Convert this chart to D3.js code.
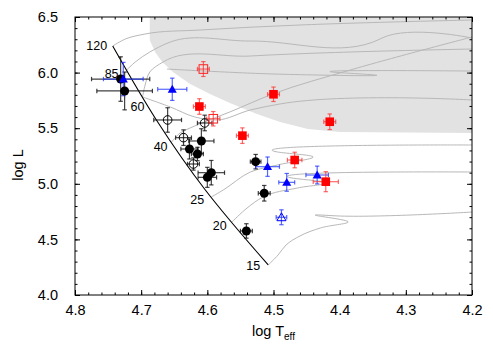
<!DOCTYPE html>
<html><head><meta charset="utf-8">
<script src="https://cdn.jsdelivr.net/npm/d3@7"></script>
<style>
html,body{margin:0;padding:0;background:#fff;}
svg text{font-family:"Liberation Sans",Arial,Helvetica,sans-serif;}
</style></head>
<body><svg id="c" width="493" height="354"></svg>
<script>
// ---------------- data ----------------
const xTicks = [4.8, 4.7, 4.6, 4.5, 4.4, 4.3, 4.2];
const yTicks = [4.0, 4.5, 5.0, 5.5, 6.0, 6.5];
const masses = ["120", "85", "60", "40", "25", "20", "15"];

// evolutionary tracks [logTeff, logL]
const track120 = [[4.743,6.239],[4.724,6.302],[4.694,6.347],[4.611,6.383],[4.460,6.428],[4.2,6.473]];
const track85  = [[4.722,6.023],[4.709,6.095],[4.687,6.185],[4.656,6.275],[4.535,6.284],[4.339,6.302],[4.336,6.311],[4.2,6.311]];
const track60  = [[4.698,5.781],[4.694,5.889],[4.687,6.005],[4.667,6.095],[4.535,6.149],[4.2,6.212]];
const track60b = [[4.698,5.781],[4.656,5.691],[4.619,5.601],[4.585,5.574],[4.535,5.664],[4.490,5.718],[4.2,5.754]];
const trackX   = [[4.661,6.032],[4.498,5.987],[4.346,5.978],[4.411,6.005],[4.2,6.014]];
const track40  = [[4.654,5.376],[4.641,5.457],[4.626,5.502],[4.608,5.547],[4.566,5.646],[4.501,5.808],[4.384,6.023],[4.2,6.320]];
const track25  = [[4.594,4.881],[4.576,4.944],[4.535,5.106],[4.494,5.169],[4.440,5.241],[4.494,5.286],[4.2,5.349]];
const track20  = [[4.563,4.656],[4.540,4.782],[4.516,4.881],[4.464,4.962],[4.419,5.007],[4.472,5.052],[4.2,5.106]];
const track15  = [[4.508,4.270],[4.493,4.360],[4.481,4.450],[4.460,4.531],[4.429,4.603],[4.387,4.656],[4.437,4.719],[4.399,4.710],[4.2,4.746]];
const labelTracks = [track120, track85, track60, track40, track25, track20, track15];

// zero-age main sequence
const zams = [[4.743,6.239],[4.677,5.574],[4.603,4.944],[4.508,4.270]];

// shaded region boundary
const shade = [[4.687,6.5],[4.687,6.293],[4.679,6.185],[4.668,6.095],[4.652,6.005],[4.626,5.897],[4.596,5.808],[4.566,5.727],[4.525,5.628],[4.490,5.556],[4.448,5.493],[4.399,5.466],[4.2,5.457],[4.2,6.5]];

// stars: [logTeff, logL, errT, errL]
const blackFilled = [
  [4.731,5.942,0.044,0.20],[4.725,5.835,0.042,0.17],[4.609,5.385,0.019,0.11],
  [4.627,5.313,0.013,0.09],[4.615,5.268,0.009,0.06],[4.594,5.100,0.020,0.11],
  [4.600,5.058,0.014,0.09],[4.527,5.199,0.008,0.065],[4.514,4.915,0.009,0.07],
  [4.541,4.576,0.009,0.065]];
const blackOpen = [
  [4.660,5.574,0.021,0.11],[4.604,5.547,0.011,0.07],[4.636,5.415,0.012,0.07],
  [4.621,5.178,0.009,0.055]];
const blueFilled = [
  [4.727,5.942,0.030,0.15],[4.653,5.850,0.022,0.10],[4.509,5.154,0.018,0.087],
  [4.480,5.013,0.012,0.08],[4.434,5.079,0.017,0.08]];
const blueOpen = [[4.488,4.699,0.008,0.067]];
const redFilled = [
  [4.612,5.695,0.009,0.07],[4.500,5.805,0.009,0.065],[4.547,5.433,0.009,0.07],
  [4.415,5.558,0.009,0.07],[4.468,5.214,0.011,0.07],[4.421,5.019,0.019,0.09]];
const redOpen = [[4.606,6.032,0.009,0.067],[4.591,5.585,0.010,0.065]];

// ---------------- drawing ----------------
const L = 75, R = 472, T = 17, B = 295;
const x = d3.scaleLinear().domain([4.8, 4.2]).range([L, R]);
const y = d3.scaleLinear().domain([4.0, 6.5]).range([B, T]);
const svg = d3.select("#c");

svg.append("defs").append("clipPath").attr("id","clip")
  .append("rect").attr("x",L).attr("y",T).attr("width",R-L).attr("height",B-T);
const plot = svg.append("g").attr("clip-path","url(#clip)");

// shaded region
plot.append("path").datum(shade)
  .attr("d", d3.line().x(d=>x(d[0])).y(d=>y(d[1])).curve(d3.curveLinearClosed))
  .attr("fill","#e2e2e2").attr("stroke","none");

// tracks
const tracks = [track120, track85, track60, track60b, trackX, track40, track25, track20, track15];
const trackLine = d3.line().x(d=>x(d[0])).y(d=>y(d[1])).curve(d3.curveMonotoneY === undefined ? d3.curveLinear : d3.curveCatmullRom.alpha(1));
plot.selectAll("path.trk").data(tracks).enter().append("path").attr("class","trk")
  .attr("d", trackLine).attr("fill","none").attr("stroke","#b8b8b8").attr("stroke-width",1);

// ZAMS
plot.append("path").datum(zams)
  .attr("d", d3.line().x(d=>x(d[0])).y(d=>y(d[1])).curve(d3.curveCatmullRom.alpha(0.5)))
  .attr("fill","none").attr("stroke","#000").attr("stroke-width",1.1);

// mass labels
const labOff = [[-16,4],[-15,8],[-5,14],[-11,9],[-14,7],[-12,8],[-15,5]];
svg.selectAll("text.mass").data(masses).enter().append("text").attr("class","mass")
  .attr("x",(d,i)=>x(labelTracks[i][0][0])+labOff[i][0])
  .attr("y",(d,i)=>y(labelTracks[i][0][1])+labOff[i][1])
  .attr("text-anchor","middle").attr("font-size",12.5).attr("fill","#000").text(d=>d);

// error bars + markers
function errBars(data, color, op){
  const g = plot.append("g").attr("stroke",color).attr("stroke-opacity",op).attr("stroke-width",1.2).attr("fill","none");
  const cap = 2.2;
  data.forEach(d=>{
    const cx=x(d[0]), cy=y(d[1]);
    const x1=x(d[0]+d[2]), x2=x(d[0]-d[2]);
    const y1=y(d[1]+d[3]), y2=y(d[1]-d[3]);
    g.append("line").attr("x1",x1).attr("x2",x2).attr("y1",cy).attr("y2",cy);
    g.append("line").attr("x1",x1).attr("x2",x1).attr("y1",cy-cap).attr("y2",cy+cap);
    g.append("line").attr("x1",x2).attr("x2",x2).attr("y1",cy-cap).attr("y2",cy+cap);
    g.append("line").attr("x1",cx).attr("x2",cx).attr("y1",y1).attr("y2",y2);
    g.append("line").attr("x1",cx-cap).attr("x2",cx+cap).attr("y1",y1).attr("y2",y1);
    g.append("line").attr("x1",cx-cap).attr("x2",cx+cap).attr("y1",y2).attr("y2",y2);
  });
}
errBars(blackFilled,"#111",0.8);
errBars(blackOpen,"#111",0.8);
errBars(blueFilled,"#1f35ff",0.75);
errBars(blueOpen,"#1f35ff",0.75);
errBars(redFilled,"#ff2a2a",0.7);
errBars(redOpen,"#ff2a2a",0.7);

plot.selectAll("circle.bf").data(blackFilled).enter().append("circle").attr("class","bf")
  .attr("cx",d=>x(d[0])).attr("cy",d=>y(d[1])).attr("r",4.5).attr("fill","#000");
plot.selectAll("circle.bo").data(blackOpen).enter().append("circle").attr("class","bo")
  .attr("cx",d=>x(d[0])).attr("cy",d=>y(d[1])).attr("r",4.3).attr("fill","none").attr("stroke","#000").attr("stroke-width",1);
const tri = d3.symbol().type(d3.symbolTriangle).size(36);
plot.selectAll("path.btf").data(blueFilled).enter().append("path").attr("class","btf")
  .attr("d",tri).attr("transform",d=>`translate(${x(d[0])},${y(d[1])+0.8})`).attr("fill","#0000ff");
plot.selectAll("path.bto").data(blueOpen).enter().append("path").attr("class","bto")
  .attr("d",tri).attr("transform",d=>`translate(${x(d[0])},${y(d[1])+0.8})`).attr("fill","none").attr("stroke","#0000ff").attr("stroke-width",1);
plot.selectAll("rect.rf").data(redFilled).enter().append("rect").attr("class","rf")
  .attr("x",d=>x(d[0])-4.3).attr("y",d=>y(d[1])-4.3).attr("width",8.6).attr("height",8.6).attr("fill","#ff0000");
plot.selectAll("rect.ro").data(redOpen).enter().append("rect").attr("class","ro")
  .attr("x",d=>x(d[0])-4.3).attr("y",d=>y(d[1])-4.3).attr("width",8.6).attr("height",8.6)
  .attr("fill","none").attr("stroke","#ff2020").attr("stroke-width",1);

// axes (ticks inward, mirrored)
const xMinor = d3.range(4.2, 4.8001, 0.02);
const yMinor = d3.range(4.0, 6.5001, 0.1);
const axG = svg.append("g");
function ax(gen, tr){ axG.append("g").attr("transform",tr).call(gen).call(g=>g.select(".domain").remove()); }
ax(d3.axisBottom(x).tickValues(xMinor).tickSize(-2.5).tickFormat(""), `translate(0,${B})`);
ax(d3.axisTop(x).tickValues(xMinor).tickSize(-2.5).tickFormat(""), `translate(0,${T})`);
ax(d3.axisLeft(y).tickValues(yMinor).tickSize(-2.5).tickFormat(""), `translate(${L},0)`);
ax(d3.axisRight(y).tickValues(yMinor).tickSize(-2.5).tickFormat(""), `translate(${R},0)`);
ax(d3.axisBottom(x).tickValues(xTicks).tickSize(-5).tickPadding(10).tickFormat(d3.format(".1f")), `translate(0,${B})`);
ax(d3.axisTop(x).tickValues(xTicks).tickSize(-5).tickFormat(""), `translate(0,${T})`);
ax(d3.axisLeft(y).tickValues(yTicks).tickSize(-5).tickPadding(17).tickFormat(d3.format(".1f")), `translate(${L},0)`);
ax(d3.axisRight(y).tickValues(yTicks).tickSize(-5).tickFormat(""), `translate(${R},0)`);
axG.selectAll("line").attr("stroke","#000");
axG.selectAll("text").attr("font-size",14.5).attr("fill","#000").attr("font-family","Liberation Sans, Arial, sans-serif");

svg.append("rect").attr("x",L).attr("y",T).attr("width",R-L).attr("height",B-T)
  .attr("fill","none").attr("stroke","#000").attr("stroke-width",1);

// axis titles
const xt = svg.append("text").attr("x",(L+R)/2).attr("y",336).attr("text-anchor","middle").attr("font-size",14.5).attr("fill","#000");
xt.append("tspan").text("log T");
xt.append("tspan").attr("dy",4).attr("font-size",10).text("eff");
svg.append("text").attr("transform","translate(23,165) rotate(-90)").attr("text-anchor","middle")
  .attr("font-size",14.5).attr("fill","#000").text("log L");
</script></body></html>
